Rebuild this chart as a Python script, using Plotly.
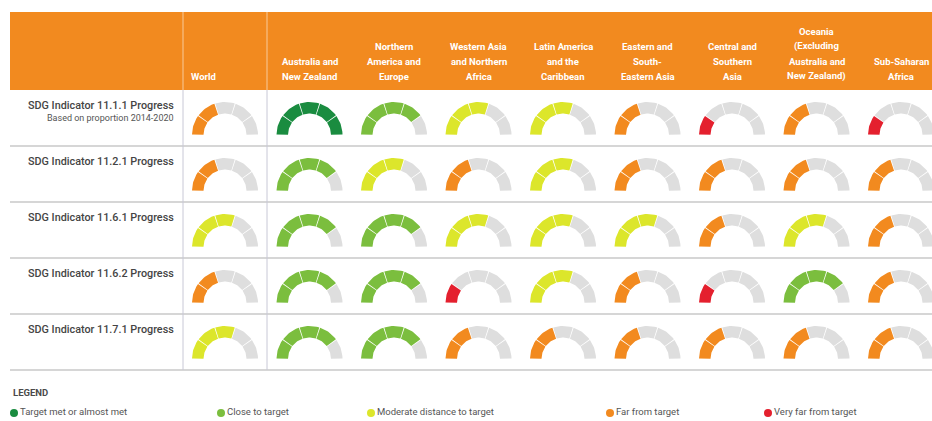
import numpy as np
import plotly.graph_objects as go

# ---------------- data ----------------
regions = [
    "World",
    "Australia and\nNew Zealand",
    "Northern\nAmerica and\nEurope",
    "Western Asia\nand Northern\nAfrica",
    "Latin America\nand the\nCaribbean",
    "Eastern and\nSouth-\nEastern Asia",
    "Central and\nSouthern\nAsia",
    "Oceania\n(Excluding\nAustralia and\nNew Zealand)",
    "Sub-Saharan\nAfrica",
]
indicators = [
    "SDG Indicator 11.1.1 Progress",
    "SDG Indicator 11.2.1 Progress",
    "SDG Indicator 11.6.1 Progress",
    "SDG Indicator 11.6.2 Progress",
    "SDG Indicator 11.7.1 Progress",
]
indicator_notes = ["Based on proportion 2014-2020", "", "", "", ""]

# progress level: 5 = target met, 4 = close, 3 = moderate, 2 = far, 1 = very far
progress_11_1_1 = [2, 5, 4, 3, 3, 2, 1, 2, 1]
progress_11_2_1 = [2, 4, 3, 2, 3, 2, 2, 2, 2]
progress_11_6_1 = [3, 4, 4, 3, 3, 3, 2, 3, 2]
progress_11_6_2 = [2, 4, 4, 1, 3, 2, 1, 4, 2]
progress_11_7_1 = [3, 4, 4, 2, 2, 2, 2, 2, 2]
progress = [progress_11_1_1, progress_11_2_1, progress_11_6_1, progress_11_6_2, progress_11_7_1]

status_levels = [5, 4, 3, 2, 1]
status_labels = ["Target met or almost met", "Close to target", "Moderate distance to target",
                 "Far from target", "Very far from target"]
status_colors = {5: "#1A8C40", 4: "#7BBE3E", 3: "#DCE62B", 2: "#F28A1F", 1: "#E4202E"}
empty_color = "#DEDEDE"

# ---------------- layout geometry ----------------
W, H = 932, 421
header_top, header_bot = 12, 90
row_h = 56
col_x0 = 225
col_dx = 84.5
r_out, r_in = 33, 21.5
n_seg = 5
gap_deg = 1.6


def seg_poly(cx, cy, a0, a1):
    a = np.radians(np.linspace(a0, a1, 14))
    xo = cx + r_out * np.cos(a)
    yo = cy - r_out * np.sin(a)
    xi = cx + r_in * np.cos(a[::-1])
    yi = cy - r_in * np.sin(a[::-1])
    xs = list(xo) + list(xi) + [xo[0], None]
    ys = list(yo) + list(yi) + [yo[0], None]
    return xs, ys


polys = {}  # color -> (xs, ys)
for ri, row in enumerate(progress):
    cy = header_bot + ri * row_h + 45
    for ci, lvl in enumerate(row):
        cx = col_x0 + ci * col_dx
        for s in range(n_seg):
            a0 = 180 - s * 36 - gap_deg / 2
            a1 = 180 - (s + 1) * 36 + gap_deg / 2
            col = status_colors[lvl] if s < lvl else empty_color
            xs, ys = seg_poly(cx, cy, a0, a1)
            px, py = polys.setdefault(col, ([], []))
            px.extend(xs)
            py.extend(ys)

fig = go.Figure()
for col, (xs, ys) in polys.items():
    fig.add_trace(go.Scatter(x=xs, y=ys, mode="lines", fill="toself", fillcolor=col,
                             line=dict(width=0, color=col), hoverinfo="skip", showlegend=False))

shapes = []
# header band
shapes.append(dict(type="rect", x0=10, x1=W, y0=header_top, y1=header_bot,
                   fillcolor="#F28A1F", line=dict(width=0), layer="below"))
# row lines
for k in range(1, len(indicators) + 1):
    y = header_bot + k * row_h
    shapes.append(dict(type="line", x0=10, x1=W, y0=y, y1=y,
                       line=dict(color="#C9C9C9", width=1.5)))
# vertical column lines
for vx in (183, 267):
    shapes.append(dict(type="line", x0=vx, x1=vx, y0=header_top, y1=header_bot,
                       line=dict(color="rgba(255,255,255,0.55)", width=1)))
    shapes.append(dict(type="line", x0=vx, x1=vx, y0=header_bot, y1=header_bot + 5 * row_h,
                       line=dict(color="#C8C8D6", width=1)))

annotations = []
hfont = dict(family="Roboto, Arial, sans-serif", size=9.5, color="white")
for ci, name in enumerate(regions):
    lines = name.split("\n")
    n = len(lines)
    for k, ln in enumerate(lines):
        y = 76 - 15 * (n - 1 - k)
        if ci == 0:
            annotations.append(dict(x=189, y=y, text="<b>%s</b>" % ln, showarrow=False,
                                    xanchor="left", yanchor="middle", font=hfont))
        else:
            annotations.append(dict(x=col_x0 + ci * col_dx, y=y, text="<b>%s</b>" % ln,
                                    showarrow=False, xanchor="center", yanchor="middle", font=hfont))

for ri, (lab, note) in enumerate(zip(indicators, indicator_notes)):
    top = header_bot + ri * row_h
    annotations.append(dict(x=176, y=top + 15, text=lab, showarrow=False, xanchor="right",
                            yanchor="middle",
                            font=dict(family="Roboto, Arial, sans-serif", size=10.8, weight=500,
                                      color="#444444")))
    if note:
        annotations.append(dict(x=176, y=top + 28, text=note, showarrow=False, xanchor="right",
                                yanchor="middle",
                                font=dict(family="Roboto, Arial, sans-serif", size=9, color="#555555")))

# legend
annotations.append(dict(x=11, y=392, text="<b>LEGEND</b>", showarrow=False, xanchor="left", yanchor="middle",
                        font=dict(family="Roboto, Arial, sans-serif", size=9.5, color="#4A4A4A")))
legend_x = [14, 221, 371, 610, 768]
fig.add_trace(go.Scatter(x=legend_x, y=[413] * 5, mode="markers+text",
                         marker=dict(size=8, color=[status_colors[l] for l in status_levels]),
                         text=status_labels, textposition="middle right",
                         textfont=dict(family="Roboto, Arial, sans-serif", size=9.5, color="#555555"),
                         hoverinfo="skip", showlegend=False))

fig.update_layout(
    width=W, height=H, margin=dict(l=0, r=0, t=0, b=0),
    paper_bgcolor="white", plot_bgcolor="white",
    xaxis=dict(range=[0, W], visible=False, fixedrange=True),
    yaxis=dict(range=[H, 0], visible=False, fixedrange=True),
    shapes=shapes, annotations=annotations, showlegend=False,
)
fig.write_html("out.html")
